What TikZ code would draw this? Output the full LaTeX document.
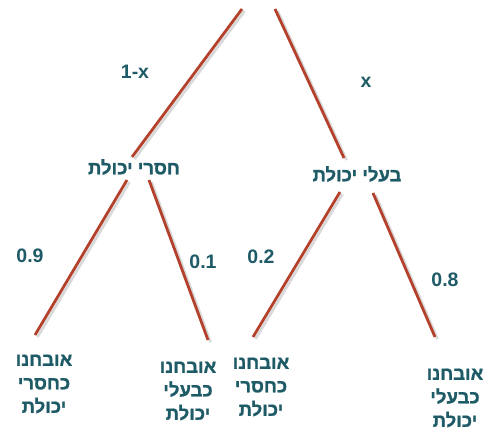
\documentclass[tikz,border=0pt]{standalone}
\usepackage{fontspec}
\setmainfont{Liberation Sans}
\newfontfamily\hebfont[Script=Hebrew,FakeBold=1.2]{Liberation Sans Bold}
\TeXXeTstate=1
\definecolor{txt}{HTML}{1E5B66}
\definecolor{br}{HTML}{B3412C}
\tikzset{
  x=1pt,y=-1pt,
  branch/.style={draw=br,line width=2.8pt},
  shade/.style={draw=black!25,line width=2.8pt,opacity=0.6},
  lbl/.style={text=txt,font=\bfseries\fontsize{19.5}{20}\selectfont,inner sep=0pt},
  heb/.style={text=txt,font=\hebfont\fontsize{18.5}{23.5}\selectfont,inner sep=0pt,align=center},
}
\newcommand{\hb}[1]{\beginR #1\endR}
\begin{document}
\begin{tikzpicture}
\useasboundingbox (0,0) rectangle (488,433);
% coordinates of branch ends
\coordinate (r1) at (242,9);
\coordinate (r2) at (275,9);
\coordinate (a1) at (132,157);
\coordinate (b1) at (344,158);
\coordinate (a2) at (127,180);
\coordinate (a3) at (149,180);
\coordinate (b2) at (340,192);
\coordinate (b3) at (373,193);
\coordinate (l1) at (35,335);
\coordinate (l2) at (208,340);
\coordinate (l3) at (253,337);
\coordinate (l4) at (435,337);
% shadows
\foreach \p/\q in {r1/a1,r2/b1,a2/l1,a3/l2,b2/l3,b3/l4}
  \draw[shade] ([shift={(2.5,2)}]\p) -- ([shift={(2.5,2)}]\q);
% branches
\draw[branch] (r1) -- (a1);
\draw[branch] (r2) -- (b1);
\draw[branch] (a2) -- (l1);
\draw[branch] (a3) -- (l2);
\draw[branch] (b2) -- (l3);
\draw[branch] (b3) -- (l4);
% middle nodes
\node[heb] (na) at (134,167) {\hb{חסרי יכולת}};
\node[heb] (nb) at (357,174) {\hb{בעלי יכולת}};
% probability labels
\node[lbl] (p1) at (135,72) {1-x};
\node[lbl] (p2) at (366,82) {x};
\node[lbl] (p3) at (30,256) {0.9};
\node[lbl] (p4) at (203,262) {0.1};
\node[lbl] (p5) at (261,257) {0.2};
\node[lbl] (p6) at (445,280) {0.8};
% leaves
\node[heb] (f1) at (44,384) {\hb{אובחנו}\\\hb{כחסרי}\\\hb{יכולת}};
\node[heb] (f2) at (188,391) {\hb{אובחנו}\\\hb{כבעלי}\\\hb{יכולת}};
\node[heb] (f3) at (261,387) {\hb{אובחנו}\\\hb{כחסרי}\\\hb{יכולת}};
\node[heb] (f4) at (455,398) {\hb{אובחנו}\\\hb{כבעלי}\\\hb{יכולת}};
\end{tikzpicture}
\end{document}
